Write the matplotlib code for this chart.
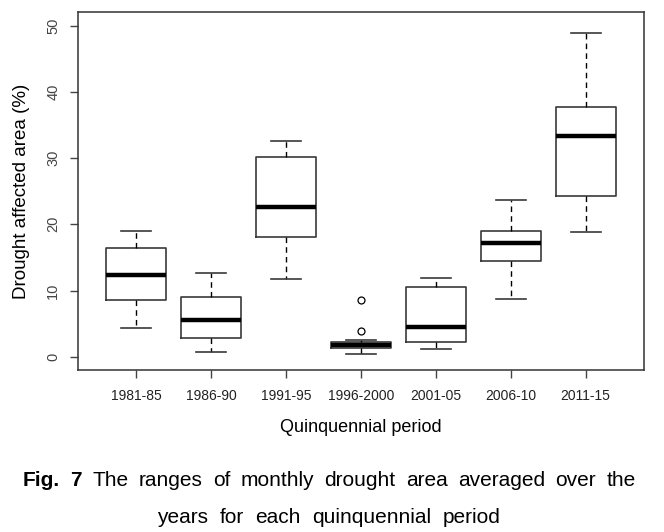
import matplotlib
matplotlib.use('Agg')
import matplotlib.pyplot as plt

plt.rcParams['font.family'] = ['Liberation Sans', 'DejaVu Sans']

periods = ['1981-85', '1986-90', '1991-95', '1996-2000', '2001-05', '2006-10', '2011-15']
whisker_low = [4.4, 0.7, 11.7, 0.4, 1.2, 8.7, 18.9]
q1 = [8.5, 2.9, 18.1, 1.3, 2.2, 14.4, 24.2]
medians = [12.3, 5.5, 22.6, 1.7, 4.5, 17.1, 33.3]
q3 = [16.4, 9.0, 30.2, 2.3, 10.5, 19.0, 37.7]
whisker_high = [19.0, 12.7, 32.5, 2.6, 11.9, 23.6, 48.8]
outliers = [[], [], [], [3.9, 8.6], [], [], []]

caption_1 = ['Fig.', '7', 'The', 'ranges', 'of', 'monthly', 'drought', 'area', 'averaged', 'over', 'the']
caption_2 = ['years', 'for', 'each', 'quinquennial', 'period']

stats = []
for i, p in enumerate(periods):
    stats.append({'label': p, 'whislo': whisker_low[i], 'q1': q1[i], 'med': medians[i],
                  'q3': q3[i], 'whishi': whisker_high[i], 'fliers': outliers[i]})

W, H = 664, 532
fig = plt.figure(figsize=(W / 100, H / 100), dpi=100)
ax = fig.add_axes([0.117, 0.3045, 0.853, 0.6724])

edge = '#3a3a3a'
ax.bxp(stats, positions=range(1, 8), widths=0.8, capwidths=0.4,
       boxprops=dict(color=edge, linewidth=1.2),
       medianprops=dict(color='black', linewidth=3.2, solid_capstyle='butt'),
       whiskerprops=dict(color='black', linewidth=1.0, linestyle=(0, (4, 3))),
       capprops=dict(color=edge, linewidth=1.2),
       flierprops=dict(marker='o', markersize=5, markerfacecolor='none',
                       markeredgecolor='black', markeredgewidth=0.9))

ax.set_xlim(0.22, 7.78)
ax.set_ylim(-2, 52)
ax.set_yticks([0, 10, 20, 30, 40, 50])
ax.set_xticks(range(1, 8))
ax.set_xticklabels(periods, fontsize=10, color='#222222')
for lbl in ax.get_yticklabels():
    lbl.set_rotation(90)
    lbl.set_va('center')
    lbl.set_fontsize(10.5)
    lbl.set_color('#444444')
ax.tick_params(axis='both', direction='out', length=5.5, width=1.0, color='#444444')
ax.tick_params(axis='x', pad=8.5)
ax.tick_params(axis='y', pad=7)
for s in ax.spines.values():
    s.set_color('#333333')
    s.set_linewidth(1.1)

ax.set_ylabel('Drought affected area (%)', fontsize=13.5, va='center')
ax.yaxis.set_label_coords(-0.099, 0.5)
ax.set_xlabel('Quinquennial period', fontsize=13, va='center')
ax.xaxis.set_label_coords(0.5, -0.162)


# caption, justified between given pixel edges like the journal layout
def justified_line(words, n_bold, x0, x1, baseline, size):
    texts = []
    for i, w in enumerate(words):
        texts.append(fig.text(0, 1 - baseline / H, w, fontsize=size, va='baseline', ha='left',
                              fontweight='bold' if i < n_bold else 'normal'))
    fig.canvas.draw()
    r = fig.canvas.get_renderer()
    widths = [t.get_window_extent(r).width for t in texts]
    gap = ((x1 - x0) - sum(widths)) / (len(words) - 1)
    x = x0
    for t, w in zip(texts, widths):
        t.set_x(x / W)
        x += w + gap


justified_line(caption_1, 2, 22.7, 635.7, 486.5, 15)
justified_line(caption_2, 0, 157, 501, 523, 15)

fig.savefig('out.png', dpi=100)
